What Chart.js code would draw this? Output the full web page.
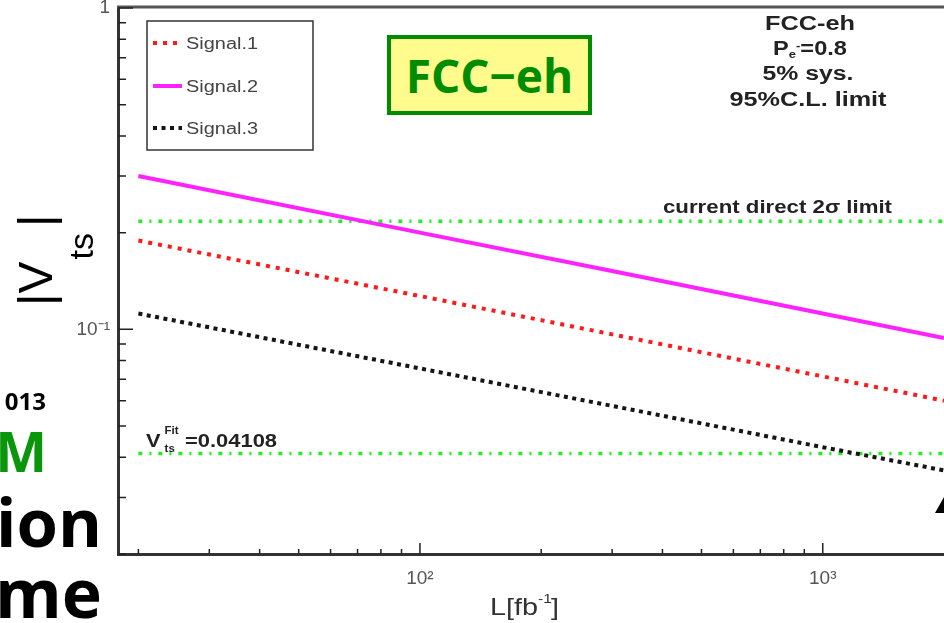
<!DOCTYPE html>
<html>
<head>
<meta charset="utf-8">
<script src="https://cdn.jsdelivr.net/npm/chart.js@4.4.0/dist/chart.umd.min.js"></script>
<style>
html, body { margin: 0; padding: 0; background: #fff; }
#wrap { position: relative; width: 944px; height: 623px; overflow: hidden; background: #fff; }
#myChart { position: absolute; left: 0; top: 0; }
.frag { position: absolute; font-family: "Open Sans", sans-serif; font-weight: 700; white-space: nowrap; line-height: 1; color: #000; }
#fccBox { position: absolute; left: 387px; top: 35px; width: 197px; height: 72px; border: 4px solid #008c00; background: #fffb8c;
  display: flex; align-items: center; justify-content: center; }
#fccBox span { font-family: "Open Sans", sans-serif; font-weight: 700; font-size: 46px; line-height: 1; color: #008c00; }
#corner { position: absolute; left: 935px; top: 497px; width: 9px; height: 16px; background: #000;
  clip-path: polygon(0 100%, 100% 0, 100% 100%); }
</style>
</head>
<body>
<div id="wrap">
  <canvas id="myChart" width="944" height="623"></canvas>
  <div class="frag" style="right:898px; top:389px; font-size:24px;">013</div>
  <div class="frag" style="right:897px; top:423px; font-size:55px; color:#0a960a;">M</div>
  <div class="frag" style="right:842px; top:488px; font-size:67px;">ion</div>
  <div class="frag" style="right:842px; top:558px; font-size:68px;">me</div>
  <div id="fccBox"><span>FCC−eh</span></div>
  <div id="corner"></div>
</div>
<script>
// values (L in fb^-1, |V_ts| limits)
var lumi = [20, 100, 300, 1000, 2000];
var signal1 = [0.189, 0.127, 0.0965, 0.0714, 0.060];
var signal2 = [0.300, 0.200, 0.152, 0.112, 0.094];
var signal3 = [0.112, 0.0756, 0.0578, 0.043, 0.0364];
var seriesNames = ['Signal.1', 'Signal.2', 'Signal.3'];

// horizontal reference lines
var refLumi = [20, 2000];
var directLimit = [0.217, 0.217];
var vtsFit = [0.04108, 0.04108];

// axes
var xTickValues = [100, 1000];
var xTickLabels = ['10²', '10³'];
var yTickValues = [0.1, 1];
var yTickLabels = ['10⁻¹', '1'];
var xMinorTicks = [20, 30, 40, 50, 60, 70, 80, 90, 200, 300, 400, 500, 600, 700, 800, 900];
var yMinorTicks = [0.02, 0.03, 0.04, 0.05, 0.06, 0.07, 0.08, 0.09, 0.2, 0.3, 0.4, 0.5, 0.6, 0.7, 0.8, 0.9];

var SANS = '"Liberation Sans", Arial, sans-serif';

function toPoints (xs, ys) {
    return xs.map(function (x, i) { return {x: x, y: ys[i]}; });
}

// text drawn with a horizontal stretch, like the original ROOT output
function stretchText (ctx, str, x, y, font, color, align, sx) {
    ctx.save();
    ctx.font = font;
    ctx.fillStyle = color;
    ctx.textAlign = 'left';
    ctx.textBaseline = 'alphabetic';
    var w = ctx.measureText(str).width * sx;
    var x0 = align === 'center' ? x - w / 2 : (align === 'right' ? x - w : x);
    ctx.translate(x0, y);
    ctx.scale(sx, 1);
    ctx.fillText(str, 0, 0);
    ctx.restore();
    return w;
}

function fitText (ctx, str, x, y, font, color, align, width) {
    ctx.save();
    ctx.font = font;
    var sx = width / ctx.measureText(str).width;
    ctx.restore();
    return stretchText(ctx, str, x, y, font, color, align, sx);
}

function textWidth (ctx, str, font, sx) {
    ctx.save();
    ctx.font = font;
    var w = ctx.measureText(str).width * sx;
    ctx.restore();
    return w;
}

var framePlugin = {
    id: 'frame',
    afterDraw: function (chart) {
        var ctx = chart.ctx;
        var area = chart.chartArea;
        var xs = chart.scales.x, ys = chart.scales.y;
        ctx.save();
        // top frame line
        ctx.strokeStyle = '#555';
        ctx.lineWidth = 3;
        ctx.beginPath();
        ctx.moveTo(area.left - 1, area.top - 1);
        ctx.lineTo(area.right, area.top - 1);
        ctx.stroke();

        // inward tick marks
        ctx.strokeStyle = '#222';
        ctx.lineWidth = 1.5;
        ctx.beginPath();
        xMinorTicks.forEach(function (v) {
            var px = xs.getPixelForValue(v);
            ctx.moveTo(px, area.bottom); ctx.lineTo(px, area.bottom - 5);
        });
        xTickValues.forEach(function (v) {
            var px = xs.getPixelForValue(v);
            ctx.moveTo(px, area.bottom); ctx.lineTo(px, area.bottom - 11);
        });
        yMinorTicks.forEach(function (v) {
            var py = ys.getPixelForValue(v);
            ctx.moveTo(area.left, py); ctx.lineTo(area.left + 8, py);
        });
        yTickValues.forEach(function (v) {
            var py = ys.getPixelForValue(v);
            ctx.moveTo(area.left, py); ctx.lineTo(area.left + 15, py);
        });
        ctx.stroke();

        // legend box
        ctx.fillStyle = '#fff';
        ctx.fillRect(147, 21, 166, 129);
        ctx.strokeStyle = '#333';
        ctx.lineWidth = 1.5;
        ctx.strokeRect(147, 21, 166, 129);
        var rows = [43, 86, 128];
        for (var i = 0; i < 3; i++) {
            var ds = chart.data.datasets[i];
            ctx.beginPath();
            ctx.strokeStyle = ds.borderColor;
            ctx.lineWidth = ds.borderWidth;
            ctx.setLineDash(ds.borderDash || []);
            ctx.moveTo(153, rows[i]);
            ctx.lineTo(182, rows[i]);
            ctx.stroke();
            ctx.setLineDash([]);
            fitText(ctx, ds.label, 186, rows[i] + 6, '16px ' + SANS, '#444', 'left', 72);
        }

        // top-right annotation
        var bold = 'bold 20px ' + SANS;
        fitText(ctx, 'FCC-eh', 810, 30, bold, '#222', 'center', 90);
        var sx = 1.18;
        var small = 'bold 11px ' + SANS;
        var wP = textWidth(ctx, 'P', bold, sx);
        var wE = textWidth(ctx, 'e', small, sx);
        var wM = textWidth(ctx, '-', small, sx);
        var wR = textWidth(ctx, '=0.8', bold, sx);
        var px0 = 810 - (wP + wE + wM + wR) / 2;
        stretchText(ctx, 'P', px0, 55, bold, '#222', 'left', sx);
        stretchText(ctx, 'e', px0 + wP, 58, small, '#222', 'left', sx);
        stretchText(ctx, '-', px0 + wP + wE, 49, small, '#222', 'left', sx);
        stretchText(ctx, '=0.8', px0 + wP + wE + wM, 55, bold, '#222', 'left', sx);
        fitText(ctx, '5% sys.', 808, 80, bold, '#222', 'center', 91);
        fitText(ctx, '95%C.L. limit', 808, 106, bold, '#222', 'center', 157);

        // reference line labels
        fitText(ctx, 'current direct 2σ limit', 663, 213, 'bold 19px ' + SANS, '#222', 'left', 229);
        var fb = 'bold 19px ' + SANS;
        var fs = 'bold 10px ' + SANS;
        var wV = stretchText(ctx, 'V', 146, 447, fb, '#222', 'left', 1.15);
        stretchText(ctx, 'Fit', 146 + wV + 4, 434, fs, '#222', 'left', 1.15);
        stretchText(ctx, 'ts', 146 + wV + 4, 452, fs, '#222', 'left', 1.15);
        fitText(ctx, '=0.04108', 185, 447, fb, '#222', 'left', 92);

        // x title L[fb^-1]
        var tf = '24px ' + SANS;
        var ts = '13px ' + SANS;
        var w1 = stretchText(ctx, 'L[fb', 490, 615, tf, '#333', 'left', 1.2);
        var w2 = stretchText(ctx, '-1', 490 + w1, 603, ts, '#333', 'left', 1.2);
        stretchText(ctx, ']', 490 + w1 + w2 - 1, 615, tf, '#333', 'left', 1.2);

        // y title |V_ts|
        ctx.save();
        ctx.translate(52, 302);
        ctx.rotate(-Math.PI / 2);
        ctx.fillStyle = '#000';
        ctx.textBaseline = 'alphabetic';
        ctx.font = '48px ' + SANS;
        ctx.fillText('|V', -4, 0);
        var wv = ctx.measureText('|V').width;
        ctx.font = '34px ' + SANS;
        ctx.fillText('ts', -4 + wv + 2, 41);
        ctx.font = '48px ' + SANS;
        ctx.fillText('|', 75, 0);
        ctx.restore();

        ctx.restore();
    }
};

var config = {
    type: 'line',
    data: {
        datasets: [
            {
                label: seriesNames[0],
                data: toPoints(lumi, signal1),
                borderColor: '#ff1a1a',
                borderWidth: 4,
                borderDash: [4, 6],
                borderCapStyle: 'butt'
            },
            {
                label: seriesNames[1],
                data: toPoints(lumi, signal2),
                borderColor: '#ff22ff',
                borderWidth: 4
            },
            {
                label: seriesNames[2],
                data: toPoints(lumi, signal3),
                borderColor: '#151515',
                borderWidth: 4,
                borderDash: [4, 4.5],
                borderCapStyle: 'butt'
            },
            {
                label: 'current direct 2σ limit',
                data: toPoints(refLumi, directLimit),
                borderColor: '#22ee22',
                borderWidth: 3.5,
                borderDash: [4, 7, 2, 7],
                borderCapStyle: 'butt'
            },
            {
                label: 'V_ts Fit',
                data: toPoints(refLumi, vtsFit),
                borderColor: '#22ee22',
                borderWidth: 3.5,
                borderDash: [4, 7, 2, 7],
                borderCapStyle: 'butt'
            }
        ]
    },
    options: {
        responsive: false,
        animation: false,
        events: [],
        layout: { padding: { top: 8, right: 0, left: 0, bottom: 0 } },
        elements: { point: { radius: 0 }, line: { tension: 0, fill: false } },
        plugins: { legend: { display: false }, tooltip: { enabled: false } },
        scales: {
            x: {
                type: 'logarithmic',
                min: 17.8,
                max: 2000,
                afterBuildTicks: function (axis) {
                    axis.ticks = xTickValues.map(function (v) { return {value: v}; });
                },
                afterFit: function (axis) {
                    axis.height = 69;
                    axis.paddingLeft = 0;
                    axis.paddingRight = 0;
                },
                grid: { display: false, drawTicks: false },
                border: { display: true, color: '#333', width: 3 },
                ticks: {
                    autoSkip: false, maxRotation: 0, padding: 13, color: '#555',
                    font: { family: SANS, size: 19 },
                    callback: function (v, i) { return xTickLabels[i]; }
                }
            },
            y: {
                type: 'logarithmic',
                min: 0.02,
                max: 1,
                afterBuildTicks: function (axis) {
                    axis.ticks = yTickValues.map(function (v) { return {value: v}; });
                },
                afterFit: function (axis) {
                    axis.width = 118;
                    axis.paddingTop = 0;
                    axis.paddingBottom = 0;
                },
                grid: { display: false, drawTicks: false },
                border: { display: true, color: '#333', width: 3 },
                ticks: {
                    autoSkip: false, padding: 8, color: '#555',
                    font: { family: SANS, size: 19 },
                    callback: function (v, i) { return yTickLabels[i]; }
                }
            }
        }
    },
    plugins: [framePlugin]
};

window.myChart = new Chart(document.getElementById('myChart').getContext('2d'), config);
</script>
</body>
</html>
